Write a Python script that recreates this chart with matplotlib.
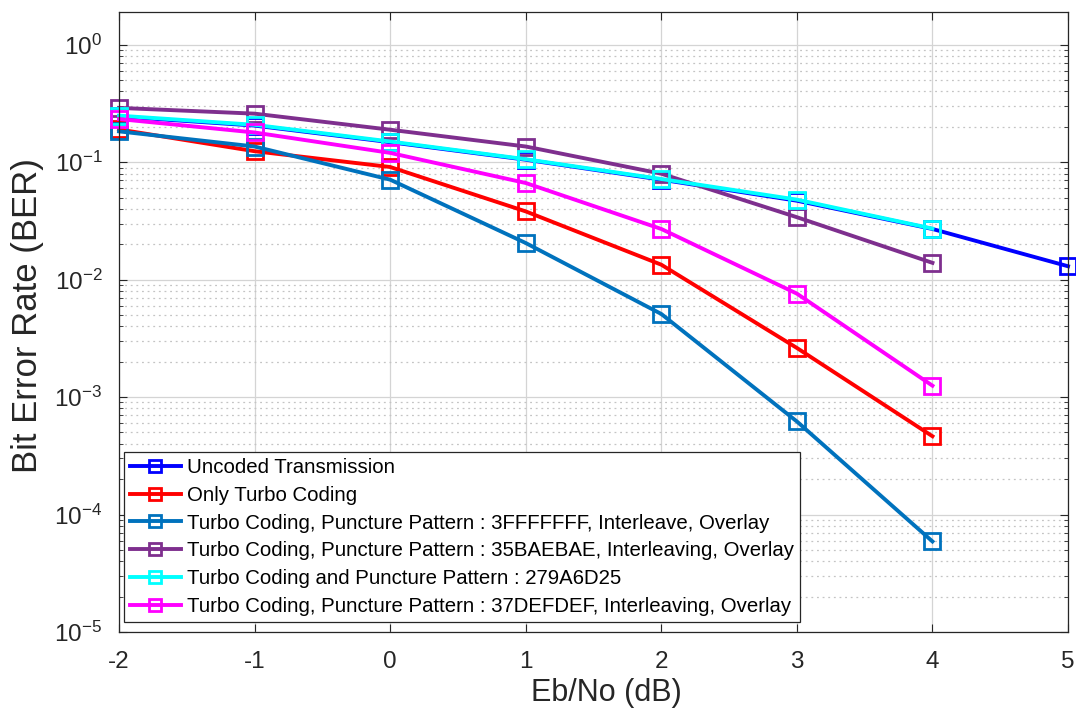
import numpy as np
import matplotlib.pyplot as plt
from matplotlib.ticker import LogLocator, NullFormatter

plt.rcParams['font.family'] = ['Liberation Sans', 'DejaVu Sans']
plt.rcParams['axes.unicode_minus'] = False

# Eb/No points (dB)
ebno = [-2, -1, 0, 1, 2, 3, 4]
ebno_uncoded = [-2, -1, 0, 1, 2, 3, 4, 5]

# BER per scheme
ber_uncoded = [0.245, 0.205, 0.148, 0.105, 0.071, 0.047, 0.027, 0.013]
ber_turbo = [0.19, 0.124, 0.091, 0.0381, 0.0134, 0.00262, 4.64e-4]
ber_3fff = [0.183, 0.136, 0.071, 0.0205, 0.0051, 6.2e-4, 5.9e-5]
ber_35ba = [0.29, 0.259, 0.189, 0.136, 0.0798, 0.034, 0.0139]
ber_279a = [0.249, 0.208, 0.150, 0.106, 0.0719, 0.048, 0.0272]
ber_37de = [0.233, 0.179, 0.120, 0.0665, 0.0270, 0.0076, 1.25e-3]

labels = [
    "Uncoded Transmission",
    "Only Turbo Coding",
    "Turbo Coding, Puncture Pattern : 3FFFFFFF, Interleave, Overlay",
    "Turbo Coding, Puncture Pattern : 35BAEBAE, Interleaving, Overlay",
    "Turbo Coding and Puncture Pattern : 279A6D25",
    "Turbo Coding, Puncture Pattern : 37DEFDEF, Interleaving, Overlay",
]
colors = ["#0000FF", "#FF0000", "#0072BD", "#7E2F8E", "#00FFFF", "#FF00FF"]

fig = plt.figure(figsize=(10.76, 7.23), dpi=100)
ax = fig.add_axes([0.1106, 0.1259, 0.8820, 0.8575])

series = [(ebno_uncoded, ber_uncoded), (ebno, ber_turbo), (ebno, ber_3fff),
          (ebno, ber_35ba), (ebno, ber_279a), (ebno, ber_37de)]
for (x, y), lab, c in zip(series, labels, colors):
    ax.semilogy(x, y, '-s', color=c, linewidth=2.8, markersize=11,
                markerfacecolor='none', markeredgewidth=2.0, label=lab,
                clip_on=False)

ax.set_xlim(-2, 5)
ax.set_ylim(1e-5, 1.9)
ax.set_xticks(range(-2, 6))
ax.yaxis.set_major_locator(LogLocator(base=10, numticks=10))
ax.yaxis.set_minor_locator(LogLocator(base=10, subs=np.arange(2, 10), numticks=50))
ax.yaxis.set_minor_formatter(NullFormatter())

ax.grid(True, which='major', color='#d4d4d4', linestyle='-', linewidth=0.9)
ax.grid(True, which='minor', axis='y', color='#c4c4c4', linestyle=(0, (1.5, 3)),
        linewidth=0.9)
ax.set_axisbelow(True)

ax.tick_params(which='both', direction='in', top=True, right=True,
               labelsize=17.5, colors='#262626')
ax.tick_params(which='major', length=6)
ax.tick_params(which='minor', length=3)
ax.tick_params(axis='x', pad=14)
ax.tick_params(axis='y', pad=12)
for s in ax.spines.values():
    s.set_color('#262626')
    s.set_linewidth(0.9)

ax.set_xlabel("Eb/No (dB)", fontsize=22, color='#262626')
ax.xaxis.set_label_coords(0.514, -0.075)
ax.set_ylabel("Bit Error Rate (BER)", fontsize=25, color='#262626')
ax.yaxis.set_label_coords(-0.079, 0.51)

leg = ax.legend(loc='lower left', bbox_to_anchor=(0.005, 0.016), borderaxespad=0,
                fontsize=14.7, fancybox=False, framealpha=1, edgecolor='#262626',
                handlelength=2.5, labelspacing=0.43, borderpad=0.3,
                handletextpad=0.3, markerscale=0.75)
leg.get_frame().set_linewidth(0.9)

fig.savefig("out.png", dpi=100)
